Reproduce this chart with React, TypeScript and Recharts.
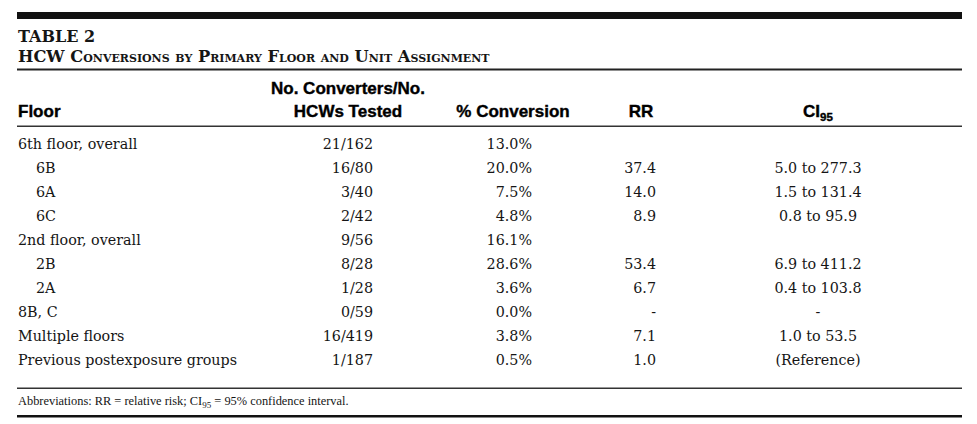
import { ScatterChart, Scatter, XAxis, YAxis, Customized } from 'recharts'

// table rows, top to bottom
const FLOORS = [
  '6th floor, overall', '6B', '6A', '6C', '2nd floor, overall',
  '2B', '2A', '8B, C', 'Multiple floors', 'Previous postexposure groups',
]
const IS_UNIT = [false, true, true, true, false, true, true, false, false, false]
const CONVERTERS = ['21/162', '16/80', '3/40', '2/42', '9/56', '8/28', '1/28', '0/59', '16/419', '1/187']
const PCT_CONVERSION = ['13.0%', '20.0%', '7.5%', '4.8%', '16.1%', '28.6%', '3.6%', '0.0%', '3.8%', '0.5%']
const RR = ['', '37.4', '14.0', '8.9', '', '53.4', '6.7', '-', '7.1', '1.0']
const CI95 = ['', '5.0 to 277.3', '1.5 to 131.4', '0.8 to 95.9', '', '6.9 to 411.2', '0.4 to 103.8', '-', '1.0 to 53.5', '(Reference)']

const TABLE_LABEL = 'TABLE 2'
const TABLE_TITLE = 'HCW Conversions by Primary Floor and Unit Assignment'
const FOOTNOTE = ['Abbreviations: RR = relative risk; CI', '95', ' =  95% confidence interval.']

const W = 977
const H = 424
const SERIF = "'DejaVu Serif', serif"
const SANS = "'Liberation Sans', Arial, sans-serif"
const INK = '#151515'

// column anchors (pixels) and text alignment
const COLUMNS = [
  { key: 'floor', x: 18, anchor: 'start', values: FLOORS },
  { key: 'conv', x: 373, anchor: 'end', values: CONVERTERS },
  { key: 'pct', x: 532, anchor: 'end', values: PCT_CONVERSION },
  { key: 'rr', x: 656, anchor: 'end', values: RR },
  { key: 'ci', x: 818, anchor: 'middle', values: CI95 },
]

const columnData = (values: string[], x: number, isFloor: boolean) =>
  values.map((label, i) => ({
    x,
    floor: FLOORS[i],
    label,
    indent: isFloor && IS_UNIT[i] ? 18 : 0,
  }))

const cellShape = (anchor: string) => (props: any) => {
  const { cx, cy, payload } = props
  if (!payload?.label) return <g />
  return (
    <text
      x={cx + payload.indent}
      y={cy}
      dy={5}
      textAnchor={anchor}
      fontFamily={SERIF}
      fontSize={14.3}
      fill={INK}
    >
      {payload.label}
    </text>
  )
}

function Frame() {
  const head = { fontFamily: SANS, fontSize: 17, fontWeight: 700, fill: '#000', stroke: '#000', strokeWidth: 0.4 }
  return (
    <g>
      <rect x={17} y={12} width={945} height={7} fill="#111" />
      <text x={18} y={42} fontFamily={SERIF} fontSize={16} fontWeight={700} fill={INK}>{TABLE_LABEL}</text>
      <text x={18} y={62} fontFamily={SERIF} fontSize={16.3} fontWeight={700} fill={INK} style={{ fontVariant: 'small-caps' }}>
        {TABLE_TITLE}
      </text>
      <rect x={17} y={68.5} width={945} height={2} fill="#222" />

      <text x={348} y={94} textAnchor="middle" {...head}>No. Converters/No.</text>
      <text x={18} y={117} {...head}>Floor</text>
      <text x={348} y={117} textAnchor="middle" {...head}>HCWs Tested</text>
      <text x={513} y={117} textAnchor="middle" {...head}>% Conversion</text>
      <text x={641} y={117} textAnchor="middle" {...head}>RR</text>
      <text x={818} y={117} textAnchor="middle" {...head}>
        CI<tspan dy={4} fontSize={11.5}>95</tspan>
      </text>
      <rect x={17} y={125.5} width={945} height={1.5} fill="#333" />

      <rect x={17} y={387.5} width={945} height={1.5} fill="#333" />
      <text x={18} y={405} fontFamily="'Liberation Serif', serif" fontSize={12.4} fill={INK}>
        {FOOTNOTE[0]}<tspan dy={3} fontSize={9}>{FOOTNOTE[1]}</tspan><tspan dy={-3}>{FOOTNOTE[2]}</tspan>
      </text>
      <rect x={17} y={415} width={945} height={2.5} fill="#111" />
    </g>
  )
}

export default function App() {
  return (
    <div style={{ position: 'absolute', left: 0, top: 0, background: '#fff' }}>
      <ScatterChart width={W} height={H} margin={{ top: 132, right: 0, bottom: 52, left: 0 }}>
        <XAxis type="number" dataKey="x" domain={[0, W]} hide />
        <YAxis
          type="category"
          dataKey="floor"
          allowDuplicatedCategory={false}
          reversed
          hide
        />
        <Customized component={<Frame />} />
        {COLUMNS.map(col => (
          <Scatter
            key={col.key}
            data={columnData(col.values, col.x, col.key === 'floor')}
            shape={cellShape(col.anchor)}
            isAnimationActive={false}
          />
        ))}
      </ScatterChart>
    </div>
  )
}
